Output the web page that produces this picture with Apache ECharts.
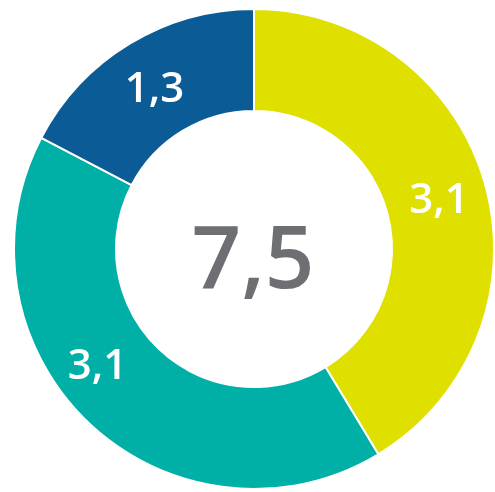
<!DOCTYPE html>
<html><head><meta charset="utf-8">
<script src="https://cdn.jsdelivr.net/npm/echarts@6/dist/echarts.min.js"></script>
<style>html,body{margin:0;padding:0;background:#fff}#c{width:495px;height:492px}</style>
</head><body><div id="c"></div>
<script>
const categories = ['A', 'B', 'C'];
const values = [3.1, 3.1, 1.3];
const totalLabel = '7,5';
const colors = ['#dfe000', '#00b0a7', '#0b5b97'];

const chart = echarts.init(document.getElementById('c'));
const offsets = [[0, 4], [-25, -22], [0, 5]];
chart.setOption({
  animation: false,
  graphic: [{
    type: 'text',
    x: 253, y: 263,
    style: {
      text: totalLabel, x: 0, y: 0, align: 'center', verticalAlign: 'middle',
      fill: '#6e6f72', font: '600 87px "Open Sans"'
    }
  }],
  series: [{
    type: 'pie',
    center: [254, 249],
    radius: [138, 240],
    startAngle: 90,
    clockwise: true,
    avoidLabelOverlap: false,
    itemStyle: { borderColor: '#fff', borderWidth: 2 },
    label: {
      show: true, position: 'inside', color: '#fff',
      fontFamily: 'Open Sans', fontWeight: 600, fontSize: 42,
      formatter: p => String(p.value).replace('.', ',')
    },
    labelLine: { show: false },
    data: categories.map((n, i) => ({
      name: n, value: values[i], itemStyle: { color: colors[i] },
      label: { offset: offsets[i] }
    }))
  }]
});
</script></body></html>
